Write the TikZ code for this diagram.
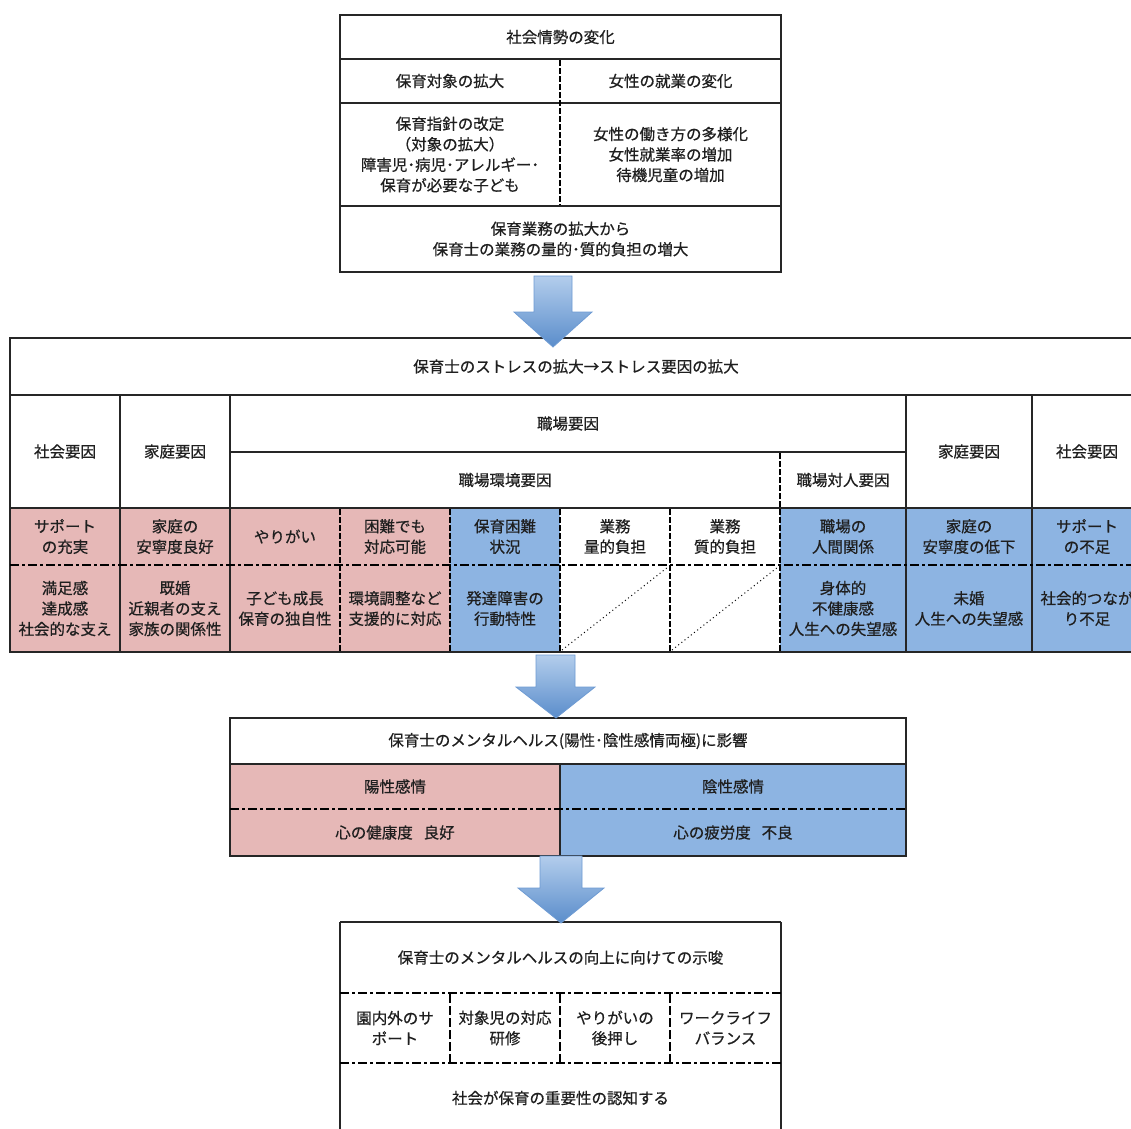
\documentclass[tikz,border=0pt]{standalone}
\usepackage{fontspec}
\setmainfont{Noto Sans CJK JP}
\newfontfamily\jpfont[FakeBold=0.6]{Noto Sans CJK JP}
\definecolor{pinkc}{HTML}{E6B8B7}
\definecolor{bluec}{HTML}{8DB4E2}
\definecolor{linec}{HTML}{262626}
\definecolor{arrtop}{HTML}{B3CDEC}
\definecolor{arrbot}{HTML}{5A8DCB}
\definecolor{arrline}{HTML}{6E9BD3}
\tikzset{
  txt/.style={align=center, inner sep=0pt, font=\jpfont\fontsize{15.5pt}{20.5pt}\selectfont, text=black!88},
  sline/.style={draw=linec, line width=1.5pt},
  dashv/.style={draw=black, line width=2.4pt, dash pattern=on 6pt off 2pt},
  dashb/.style={draw=black, line width=2.6pt, dash pattern=on 9pt off 3pt},
  dashdot/.style={draw=black, line width=2.6pt, dash pattern=on 9pt off 3pt on 3pt off 3pt},
  dotd/.style={draw=black, line width=1pt, dash pattern=on 1pt off 3pt},
  blockarrow/.style={top color=arrtop, bottom color=arrbot, draw=arrline, line width=0.8pt},
}
\newcommand{\cellnode}[6]{\node[txt] (#1) at ({(#2+#4)/2},{(#3+#5)/2}) {#6};}
\begin{document}
\begin{tikzpicture}[x=1pt,y=-1pt]
\useasboundingbox (0,0) rectangle (1131,1128);
\clip (0,0) rectangle (1131,1128);
\fill[white] (0,0) rectangle (1131,1128);

% ---------- top box ----------
\draw[sline] (340,15) rectangle (781,272);
\draw[sline] (340,59) -- (781,59);
\draw[sline] (340,103) -- (781,103);
\draw[sline] (340,206) -- (781,206);
\draw[dashv] (560,60) -- (560,205);
\cellnode{t0}{340}{15}{781}{59}{社会情勢の変化}
\cellnode{t1}{340}{59}{560}{103}{保育対象の拡大}
\cellnode{t2}{560}{59}{781}{103}{女性の就業の変化}
\cellnode{t3}{340}{103}{560}{206}{保育指針の改定\\（対象の拡大）\\障害児･病児･アレルギー･\\保育が必要な子ども}
\cellnode{t4}{560}{103}{781}{206}{女性の働き方の多様化\\女性就業率の増加\\待機児童の増加}
\cellnode{t5}{340}{206}{781}{272}{保育業務の拡大から\\保育士の業務の量的･質的負担の増大}

% ---------- big table ----------
\fill[pinkc] (10,508) rectangle (450,652);
\fill[bluec] (450,508) rectangle (560,652);
\fill[bluec] (780,508) rectangle (1142,652);
\draw[sline] (10,338) rectangle (1142,652);
\draw[sline] (10,395) -- (1142,395);
\draw[sline] (230,452) -- (906,452);
\draw[sline] (10,508) -- (1142,508);
\foreach \xx in {120,230,906,1032} \draw[sline] (\xx,395) -- (\xx,652);
\foreach \xx in {340,450,560,670} \draw[dashv] (\xx,509) -- (\xx,651);
\draw[dashv] (780,453) -- (780,651);
\draw[dashdot] (10,565) -- (1142,565);
\draw[dotd] (562,650) -- (668,567);
\draw[dotd] (672,650) -- (778,567);

\cellnode{s0}{10}{338}{1142}{395}{保育士のストレスの拡大→ストレス要因の拡大}
\cellnode{h1}{10}{395}{120}{508}{社会要因}
\cellnode{h2}{120}{395}{230}{508}{家庭要因}
\cellnode{h3}{230}{395}{906}{452}{職場要因}
\cellnode{h4}{230}{452}{780}{508}{職場環境要因}
\cellnode{h5}{780}{452}{906}{508}{職場対人要因}
\cellnode{h6}{906}{395}{1032}{508}{家庭要因}
\cellnode{h7}{1032}{395}{1142}{508}{社会要因}

\cellnode{a1}{10}{508}{120}{565}{サポート\\の充実}
\cellnode{a2}{120}{508}{230}{565}{家庭の\\安寧度良好}
\cellnode{a3}{230}{508}{340}{565}{やりがい}
\cellnode{a4}{340}{508}{450}{565}{困難でも\\対応可能}
\cellnode{a5}{450}{508}{560}{565}{保育困難\\状況}
\cellnode{a6}{560}{508}{670}{565}{業務\\量的負担}
\cellnode{a7}{670}{508}{780}{565}{業務\\質的負担}
\cellnode{a8}{780}{508}{906}{565}{職場の\\人間関係}
\cellnode{a9}{906}{508}{1032}{565}{家庭の\\安寧度の低下}
\cellnode{a10}{1032}{508}{1142}{565}{サポート\\の不足}

\cellnode{b1}{10}{565}{120}{652}{満足感\\達成感\\社会的な支え}
\cellnode{b2}{120}{565}{230}{652}{既婚\\近親者の支え\\家族の関係性}
\cellnode{b3}{230}{565}{340}{652}{子ども成長\\保育の独自性}
\cellnode{b4}{340}{565}{450}{652}{環境調整など\\支援的に対応}
\cellnode{b5}{450}{565}{560}{652}{発達障害の\\行動特性}
\cellnode{b8}{780}{565}{906}{652}{身体的\\不健康感\\人生への失望感}
\cellnode{b9}{906}{565}{1032}{652}{未婚\\人生への失望感}
\cellnode{b10}{1032}{565}{1142}{652}{社会的つなが\\り不足}

% ---------- mental health box ----------
\fill[pinkc] (230,764) rectangle (560,856);
\fill[bluec] (560,764) rectangle (906,856);
\draw[sline] (230,718) rectangle (906,856);
\draw[sline] (230,764) -- (906,764);
\draw[sline] (560,764) -- (560,856);
\draw[dashdot] (230,809) -- (906,809);
\cellnode{m0}{230}{718}{906}{764}{保育士のメンタルヘルス(陽性･陰性感情両極)に影響}
\cellnode{m1}{230}{764}{560}{809}{陽性感情}
\cellnode{m2}{560}{764}{906}{809}{陰性感情}
\cellnode{m3}{230}{809}{560}{856}{心の健康度\hspace{0.7em}良好}
\cellnode{m4}{560}{809}{906}{856}{心の疲労度\hspace{0.7em}不良}

% ---------- bottom box ----------
\draw[sline] (340,922) -- (781,922);
\draw[sline] (340,922) -- (340,1135);
\draw[sline] (781,922) -- (781,1135);
\draw[dashdot] (340,993) -- (781,993);
\draw[dashdot] (340,1063) -- (781,1063);
\foreach \xx in {450,560,670} \draw[dashb] (\xx,994) -- (\xx,1062);
\cellnode{r0}{340}{922}{781}{993}{保育士のメンタルヘルスの向上に向けての示唆}
\cellnode{r1}{340}{993}{450}{1063}{園内外のサ\\ポート}
\cellnode{r2}{450}{993}{560}{1063}{対象児の対応\\研修}
\cellnode{r3}{560}{993}{670}{1063}{やりがいの\\後押し}
\cellnode{r4}{670}{993}{781}{1063}{ワークライフ\\バランス}
\cellnode{r5}{340}{1063}{781}{1133}{社会が保育の重要性の認知する}

% ---------- block arrows ----------
\coordinate (arr1) at (553,347);
\coordinate (arr2) at (556,718);
\coordinate (arr3) at (561,923);
\shade[blockarrow] (534,276) -- (572,276) -- (572,312) -- (592,312) -- (arr1) -- (514,312) -- (534,312) -- cycle;
\shade[blockarrow] (536,655) -- (575,655) -- (575,687) -- (595,687) -- (arr2) -- (516,687) -- (536,687) -- cycle;
\shade[blockarrow] (540,856) -- (582,856) -- (582,888) -- (604,888) -- (arr3) -- (518,888) -- (540,888) -- cycle;
\end{tikzpicture}
\end{document}
